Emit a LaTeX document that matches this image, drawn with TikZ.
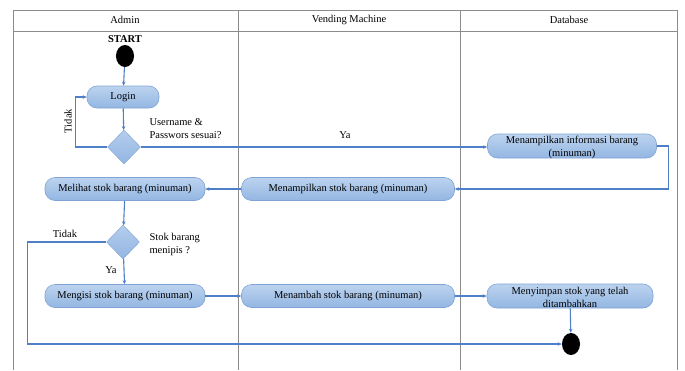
\documentclass[tikz,border=0pt]{standalone}
\usepackage{fontspec}
\setmainfont{Liberation Serif}
\usetikzlibrary{arrows.meta,shapes.geometric}
\definecolor{lane}{HTML}{8C8C8C}
\definecolor{flow}{HTML}{4F7FC6}
\definecolor{boxtop}{HTML}{BCD3EF}
\definecolor{boxbot}{HTML}{93B6E2}
\definecolor{boxline}{HTML}{7FA3D4}
\begin{document}
\begin{tikzpicture}[x=1pt,y=-1pt,
  every node/.style={font=\fontsize{10.5}{13}\selectfont},
  act/.style={rounded corners=10pt, draw=boxline, line width=0.6pt, top color=boxtop, bottom color=boxbot, inner sep=0pt},
  dec/.style={diamond, draw=boxline, top color=boxtop!80!boxbot, bottom color=boxbot, minimum width=33pt, minimum height=34pt, inner sep=0pt},
  flowline/.style={draw=flow, line width=1.1pt, -{Stealth[length=4pt,width=3.5pt]}},
  lanel/.style={draw=lane, line width=0.8pt}]
\useasboundingbox (0,0) rectangle (685,370);
% swimlanes
\draw[lanel] (13,370) -- (13,10) -- (677,10) -- (677,370);
\draw[lanel] (13,31) -- (677,31);
\draw[lanel] (238,10) -- (238,370);
\draw[lanel] (460,10) -- (460,370);
\node (hA) at (125,20) {Admin};
\node (hV) at (349,20) {Vending Machine};
\node (hD) at (569,20) {Database};
% nodes
\node[font=\bfseries\fontsize{10.5}{11}\selectfont] (startT) at (125,39) {START};
\node[ellipse, fill=black, minimum width=18pt, minimum height=22pt, inner sep=0pt] (start) at (125,56) {};
\node[act, minimum width=72pt, minimum height=22pt] (login) at (123,97) {Login};
\node[dec] (d1) at (124,147) {};
\node[anchor=west, align=left] (q1) at (146,129) {Username \&\\Passwors sesuai?};
\node[rotate=90] (tidak1) at (68,121) {Tidak};
\node (ya1) at (345,135) {Ya};
\node[act, minimum width=169pt, minimum height=24pt] (info) at (572,146) {};
\node[align=center] (infoT) at (572,147.5) {Menampilkan informasi barang\\(minuman)};
\node[act, minimum width=213pt, minimum height=23pt] (tampil) at (348,189) {Menampilkan stok barang (minuman)};
\node[act, minimum width=160pt, minimum height=23pt] (lihat) at (125,189) {Melihat stok barang (minuman)};
\node[dec] (d2) at (123,242) {};
\node[anchor=west, align=left] (q2) at (146,244) {Stok barang\\menipis ?};
\node (tidak2) at (65,234) {Tidak};
\node (ya2) at (111,270) {Ya};
\node[act, minimum width=160pt, minimum height=23pt] (isi) at (125,296) {Mengisi stok barang (minuman)};
\node[act, minimum width=213pt, minimum height=23pt] (tambah) at (348,296) {Menambah stok barang (minuman)};
\node[act, minimum width=166pt, minimum height=24pt] (simpan) at (570,296) {};
\node[align=center] (simpanT) at (570,297.5) {Menyimpan stok yang telah\\ditambahkan};
\node[ellipse, fill=black, minimum width=18pt, minimum height=22pt, inner sep=0pt] (end) at (571,344) {};
% connectors
\draw[flowline] (start) -- (login);
\draw[flowline] (login) -- (d1);
\draw[flowline] (d1.west) -- ++(-32,0) |- (login.west);
\draw[flowline] (d1.east) -- (d1.east -| info.west);
\draw[flowline] (info.east) -- ++(12,0) |- (tampil.east);
\draw[flowline] (tampil) -- (lihat);
\draw[flowline] (lihat) -- (d2);
\draw[flowline] (d2.west) -- ++(-79,0) |- (end.west);
\draw[flowline] (d2) -- (isi);
\draw[flowline] (isi) -- (tambah);
\draw[flowline] (tambah) -- (simpan);
\draw[flowline] (simpan) -- (end);
\end{tikzpicture}
\end{document}
